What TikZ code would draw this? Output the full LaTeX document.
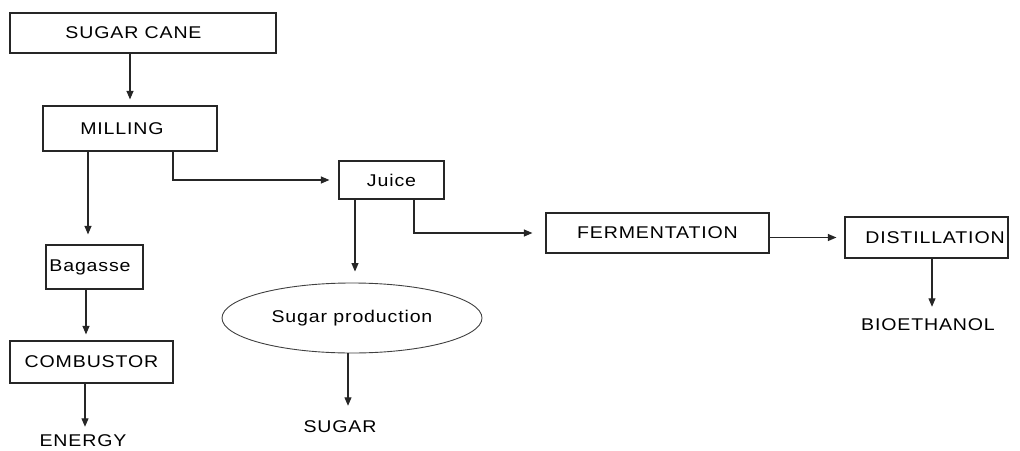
\documentclass[tikz,border=0pt]{standalone}
\usepackage{fontspec}
\setmainfont{Liberation Sans}[FakeStretch=1.15, LetterSpace=5]
\usetikzlibrary{positioning, arrows.meta, shapes.geometric}

\begin{document}
\begin{tikzpicture}
	[x=1pt, y=-1pt, font=\fontsize{17}{20}\selectfont,
	 box/.style={draw=black!85, line width=1.2pt, inner sep=0pt, text centered},
	 lbl/.style={inner sep=0pt, text centered},
	 nudge/.style={execute at begin node={\hspace*{#1}}},
	 arr/.style={-{Triangle[length=8.5pt,width=7pt]}, line width=1.1pt, draw=black!85}]
	\useasboundingbox (0,0) rectangle (1020,450);
	% nodes %
	\node[box, nudge=-19pt, minimum width=266, minimum height=40] (cane) at (143,33) {SUGAR CANE};
	\node[box, nudge=-16pt, minimum width=174, minimum height=45] (mill) at (130,128.5) {MILLING};
	\node[box, nudge=-9pt, minimum width=97, minimum height=44] (bag) at (94.5,267) {Bagasse};
	\node[box, minimum width=163, minimum height=42] (comb) at (91.5,362) {COMBUSTOR};
	\node[lbl] (energy) at (83,441) {ENERGY};
	\node[box, minimum width=105, minimum height=38] (juice) at (391.5,180) {Juice};
	\node[ellipse, draw=black!75, line width=0.9pt, inner sep=0pt, minimum width=260, minimum height=70] (sprod) at (352,318) {Sugar production};
	\node[lbl] (sugar) at (340,427) {SUGAR};
	\node[box, minimum width=223, minimum height=40] (ferm) at (657.5,233) {FERMENTATION};
	\node[box, nudge=17pt, minimum width=163, minimum height=41] (dist) at (926.5,237.5) {DISTILLATION};
	\node[lbl] (bio) at (928,325) {BIOETHANOL};

	% connector feet %
	\coordinate (mL) at ([xshift=-42pt]mill.south);
	\coordinate (mR) at ([xshift=43pt]mill.south);
	\coordinate (bS) at ([xshift=-8.5pt]bag.south);
	\coordinate (cS) at ([xshift=-6.5pt]comb.south);
	\coordinate (jL) at ([xshift=-36.5pt]juice.south);
	\coordinate (jR) at ([xshift=22.5pt]juice.south);
	\coordinate (sS) at ([xshift=-4pt]sprod.south);
	\coordinate (dS) at ([xshift=5.5pt]dist.south);

	% edges %
	\draw[arr, shorten >=6pt] (mill.north |- cane.south) -- (mill.north);
	\draw[arr, shorten >=10pt] (mL) -- (mL |- bag.north);
	\draw[arr, shorten >=6pt] (bS) -- (bS |- comb.north);
	\draw[arr, shorten >=8pt] (cS) -- (cS |- energy.north);
	\draw[arr, shorten >=9pt] (mR) |- (juice.west);
	\draw[arr, shorten >=11pt] (jL) -- (jL |- sprod.north);
	\draw[arr, shorten >=15pt] (sS) -- (sS |- sugar.north);
	\draw[arr, shorten >=13pt] (jR) |- (ferm.west);
	\draw[arr, shorten >=8pt] (ferm.east |- dist.west) -- (dist.west);
	\draw[arr, shorten >=12pt] (dS) -- (dS |- bio.north);
\end{tikzpicture}
\end{document}
